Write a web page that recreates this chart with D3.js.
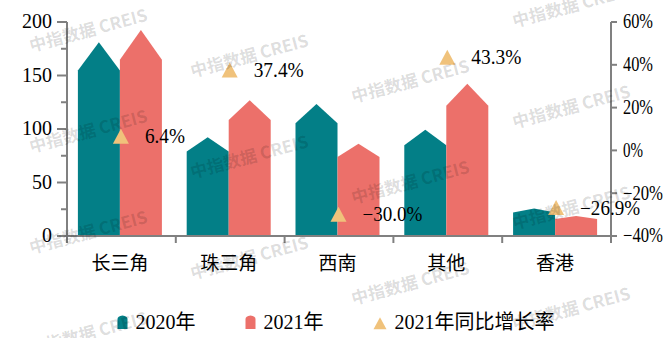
<!DOCTYPE html>
<html><head><meta charset="utf-8">
<script src="https://cdn.jsdelivr.net/npm/d3@7"></script>
<style>html,body{margin:0;padding:0;background:#fff;} svg{display:block;}</style>
</head><body><svg id="chart" width="670" height="338"></svg>
<script>
const categories = ["长三角","珠三角","西南","其他","香港"];
const series = ["2020年","2021年"];
const values2020 = [181, 92.3, 123.3, 99.3, 25.6];
const values2021 = [192.6, 126.8, 86.3, 142.3, 18.7];
const growth = [6.4, 37.4, -30.0, 43.3, -26.9];
const leftTicks = [0, 50, 100, 150, 200];
const leftMinorTicks = [25, 75, 125, 175];
const rightTicks = [-40, -20, 0, 20, 40, 60];
const legendLabels = ["2020年", "2021年", "2021年同比增长率"];
const watermarkText = "中指数据 CREIS";

const colors = ["#037f87", "#ec706a", "#f0c27b"];
const axisColor = "#808080";
const numFont = "'Liberation Serif', 'Noto Sans CJK SC', serif";
const cjkFont = "'Noto Sans CJK SC', sans-serif";

const svg = d3.select("#chart");
const plotLeft = 67, plotRight = 611, plotTop = 22, plotBase = 236;

const x = d3.scaleBand().domain(categories).range([plotLeft, plotRight]);
const xs = d3.scaleBand().domain(series).range([0, x.bandwidth()]).paddingInner(0).paddingOuter(0.295);
const yL = d3.scaleLinear().domain([0, 200]).range([plotBase, plotTop]);
const yR = d3.scaleLinear().domain([-40, 60]).range([plotBase, plotTop]);

const rows = categories.map((c, i) => ({c, vals: [values2020[i], values2021[i]], g: growth[i]}));

// bars with pointed tops
function barPath(x0, w, v) {
  const yb = yL(0), ys = yL(v * 0.855), yp = yL(v);
  return `M${x0},${yb}L${x0},${ys}L${x0 + w / 2},${yp}L${x0 + w},${ys}L${x0 + w},${yb}Z`;
}
const gBars = svg.append("g");
rows.forEach(r => {
  series.forEach((s, k) => {
    gBars.append("path")
      .attr("d", barPath(x(r.c) - 1.5 + xs(s), xs.bandwidth(), r.vals[k]))
      .attr("fill", colors[k]);
  });
});

function styleAxis(g) {
  g.select(".domain").attr("stroke", axisColor).attr("stroke-width", 2);
  g.selectAll(".tick line").attr("stroke", axisColor).attr("stroke-width", 2);
  g.selectAll(".tick text").attr("fill", "#000").style("font-family", numFont).style("font-size", "20px");
}
function monoLen(sel) {
  sel.each(function() {
    const t = this.textContent;
    d3.select(this).attr("textLength", t.length * 10).attr("lengthAdjust", "spacingAndGlyphs");
  });
}

// left axis
const gL = svg.append("g").attr("transform", `translate(${plotLeft},0)`)
  .call(d3.axisLeft(yL).tickValues(leftTicks).tickSize(10).tickSizeOuter(0).tickPadding(5).offset(0));
styleAxis(gL);
gL.selectAll(".minor").data(leftMinorTicks).join("line").attr("class", "minor")
  .attr("x1", -6).attr("x2", 0).attr("y1", d => yL(d)).attr("y2", d => yL(d))
  .attr("stroke", axisColor).attr("stroke-width", 2);

// right axis
const gR = svg.append("g").attr("transform", `translate(${plotRight},0)`)
  .call(d3.axisRight(yR).tickValues(rightTicks).tickSize(6).tickSizeOuter(0).tickPadding(6).offset(0)
    .tickFormat(d => d3.format("d")(d) + "%"));
styleAxis(gR);
monoLen(gR.selectAll(".tick text"));

// x axis
const gX = svg.append("g");
gX.append("line").attr("x1", plotLeft - 1).attr("x2", plotRight + 1).attr("y1", yL(0)).attr("y2", yL(0))
  .attr("stroke", axisColor).attr("stroke-width", 2);
const bounds = categories.map(c => x(c)).concat([x.range()[1]]);
gX.selectAll(".bt").data(bounds).join("line").attr("class", "bt")
  .attr("x1", d => d).attr("x2", d => d).attr("y1", yL(0)).attr("y2", yL(0) + 7)
  .attr("stroke", axisColor).attr("stroke-width", 2);
gX.selectAll(".cl").data(categories).join("text").attr("class", "cl")
  .attr("x", d => x(d) + x.bandwidth() / 2 - 1.5).attr("y", 261)
  .attr("text-anchor", "middle").attr("dominant-baseline", "central")
  .style("font-family", cjkFont).style("font-size", "19px").attr("fill", "#000")
  .text(d => d);

// growth markers
function triPath(cx, cy, w, h) {
  return `M${cx - w / 2},${cy + h * 0.47}L${cx},${cy - h * 0.53}L${cx + w / 2},${cy + h * 0.47}Z`;
}
const gG = svg.append("g");
rows.forEach(r => {
  const cx = x(r.c) + x.bandwidth() / 2 - 0.5, cy = yR(r.g);
  gG.append("path").attr("d", triPath(cx, cy, 16, 15)).attr("fill", colors[2]);
  gG.append("text").attr("x", cx + 24).attr("y", cy).attr("dy", "0.33em")
    .style("font-family", numFont).style("font-size", "20px").attr("fill", "#000")
    .text(d3.format(".1f")(r.g) + "%").call(monoLen);
});

// legend
const gLeg = svg.append("g");
let lx = 0;
const legY = 322;
legendLabels.forEach((lab, k) => {
  const it = gLeg.append("g").attr("transform", `translate(${lx},0)`);
  let mw;
  if (k < 2) {
    mw = 10;
    it.append("path").attr("d", `M0,${legY + 7}L0,${legY - 3}Q0,${legY - 6} 5,${legY - 6.5}Q10,${legY - 6} 10,${legY - 3}L10,${legY + 7}Z`)
      .attr("fill", colors[k]);
  } else {
    mw = 13;
    it.append("path").attr("d", triPath(6.5, legY + 1.5, 13, 12)).attr("fill", colors[2]);
  }
  const t = it.append("text").attr("x", mw + 8).attr("y", legY).attr("dy", "0.33em")
    .style("font-family", numFont).style("font-size", "20px").attr("fill", "#000").text(lab);
  const tw = t.node().getComputedTextLength();
  lx += mw + 8 + tw + 50;
});
const totalW = lx - 50;
gLeg.attr("transform", `translate(${336 - totalW / 2},0)`);

// watermark
const gW = svg.append("g").style("pointer-events", "none");
for (let i = 0; i < 4; i++) {
  for (let j = -1; j < 4; j++) {
    const cx = 88 + 161 * i, cy = 29 + 25.5 * i + 101 * j;
    if (cy < -20 || cy > 345) continue;
    gW.append("text").attr("transform", `translate(${cx},${cy}) rotate(-15)`)
      .attr("text-anchor", "middle").attr("dominant-baseline", "central")
      .style("font-family", cjkFont).style("font-size", "17px").style("font-weight", "bold")
      .attr("fill", "#000").attr("fill-opacity", 0.14).text(watermarkText);
  }
}
</script></body></html>
